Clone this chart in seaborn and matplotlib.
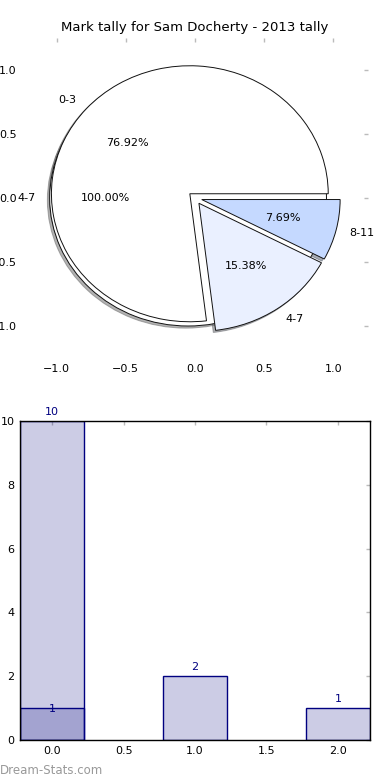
import numpy as np
import pandas as pd
import matplotlib
matplotlib.use('Agg')
import matplotlib.pyplot as plt
import seaborn as sns

sns.set_style('white')
plt.rcParams['font.family'] = ['DejaVu Sans']
plt.rcParams['font.size'] = 8
plt.rcParams['text.color'] = 'black'

# data
title = 'Mark tally for Sam Docherty - 2013 tally'
pie_labels = ['0-3', '4-7', '8-11']
pie_values = [10, 2, 1]
pie_colors = ['#ffffff', '#eaf0ff', '#c5d9ff']
full_label = ['4-7']
full_value = [1]
bar_pos = [0, 1, 2]
bar_counts = [10, 2, 1]
over_pos = [0]
over_counts = [1]

fig = plt.figure(figsize=(3.9, 7.8), dpi=100)
ax1 = fig.add_axes([22 / 390, 1 - 358 / 780, 346 / 390, 320 / 780])
ax2 = fig.add_axes([20 / 390, 40 / 780, 350 / 390, 319 / 780])

wp = {'edgecolor': '#111111', 'linewidth': 0.7}
shd = {'ox': -0.012, 'oy': -0.012, 'shade': 0.6}
ax1.pie(full_value, labels=full_label, colors=['#ffffff'], explode=[0.05],
        shadow=shd, autopct='%1.2f%%', frame=True, wedgeprops=wp,
        textprops={'fontsize': 8, 'color': 'black'})
ax1.pie(pie_values, labels=pie_labels, colors=pie_colors, explode=[0.05] * 3,
        shadow=shd, autopct='%1.2f%%', frame=True, wedgeprops=wp,
        textprops={'fontsize': 8, 'color': 'black'})
ax1.set_aspect('auto')
ax1.set_xlim(-1.25, 1.25)
ax1.set_ylim(-1.25, 1.25)
ax1.set_xticks([-1.0, -0.5, 0.0, 0.5, 1.0])
ax1.set_yticks([-1.0, -0.5, 0.0, 0.5, 1.0])
for s in ax1.spines.values():
    s.set_visible(False)
ax1.tick_params(direction='in', length=3, color='#bbbbbb', width=1,
                top=True, right=True, labelsize=8, labelcolor='black', pad=4)
ax1.set_title(title, fontsize=9.5, pad=5, color='black')

# bars
df = pd.DataFrame({'pos': bar_pos, 'count': bar_counts})
df2 = pd.DataFrame({'pos': over_pos, 'count': over_counts})
sns.barplot(data=df, x='pos', y='count', native_scale=True, width=0.45,
            errorbar=None, ax=ax2)
sns.barplot(data=df2, x='pos', y='count', native_scale=True, width=0.45,
            errorbar=None, ax=ax2)
for p in ax2.patches:
    p.set_facecolor((0, 0, 0.5, 0.2))
    p.set_edgecolor('navy')
    p.set_linewidth(1)
ax2.bar_label(ax2.containers[0], color='navy', padding=3, fontsize=8)
ax2.bar_label(ax2.containers[1], color='navy', padding=-4, fontsize=8)
ax2.set_xlim(-0.225, 2.225)
ax2.set_ylim(0, 10)
ax2.set_xticks([0.0, 0.5, 1.0, 1.5, 2.0])
ax2.set_xticklabels(['0.0', '0.5', '1.0', '1.5', '2.0'])
ax2.set_yticks([0, 2, 4, 6, 8, 10])
ax2.set_xlabel('')
ax2.set_ylabel('')
for s in ax2.spines.values():
    s.set_visible(True)
    s.set_color('black')
    s.set_linewidth(1)
ax2.tick_params(direction='in', length=3, color='#bbbbbb', width=1,
                top=True, right=True, labelsize=8, labelcolor='black', pad=4)

fig.text(0.0, 10 / 780, 'Dream-Stats.com', color='#999999', fontsize=8.5,
         va='center', ha='left')

fig.savefig('out.png', dpi=100)
